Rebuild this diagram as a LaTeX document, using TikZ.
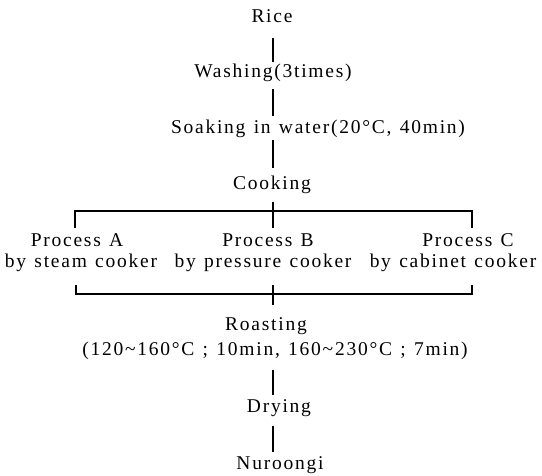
\documentclass[tikz,border=0pt]{standalone}
\usepackage{fontspec}
\setmainfont[LetterSpace=9,WordSpace=1.25]{Liberation Serif}
\begin{document}
\begin{tikzpicture}[x=1pt,y=-1pt,
  txt/.style={font=\fontsize{19.5}{22}\selectfont, inner sep=0pt, anchor=base, text height=13pt, text depth=4pt},
  ln/.style={line width=1.1pt, black}]
\useasboundingbox (0,0) rectangle (542,476);
\coordinate (axis) at (273,0);
\node[txt] (rice) at (272,23) {Rice};
\node[txt] (wash) at (273,78) {Washing(3times)};
\node[txt] (soak) at (318,134) {Soaking in water(20°C, 40min)};
\node[txt] (cook) at (272,190) {Cooking};
\node[txt] (pa1) at (77,247) {Process A};
\node[txt] (pa2) at (81,268) {by steam cooker};
\node[txt] (pb1) at (268,247) {Process B};
\node[txt] (pb2) at (263,268) {by pressure cooker};
\node[txt] (pc1) at (468,247) {Process C};
\node[txt] (pc2) at (453,268) {by cabinet cooker};
\node[txt] (roast) at (266,331) {Roasting};
\node[txt] (roast2) at (275,356) {(120\textasciitilde160°C ; 10min, 160\textasciitilde230°C ; 7min)};
\node[txt] (dry) at (279,413) {Drying};
\node[txt] (nur) at (280,470) {Nuroongi};
\coordinate (tl) at (75,211);
\coordinate (tr) at (472,211);
\coordinate (bl) at (76,294);
\coordinate (br) at (472,294);
\draw[ln, shorten <=11pt, shorten >=3pt] (rice.south -| axis) -- (wash.north -| axis);
\draw[ln, shorten <=7pt, shorten >=5pt] (wash.south -| axis) -- (soak.north -| axis);
\draw[ln, shorten <=2pt, shorten >=9pt] (soak.south -| axis) -- (cook.north -| axis);
\draw[ln, shorten <=8pt, shorten >=6pt] (cook.south -| axis) -- (pb1.north -| axis);
\draw[ln, shorten <=6pt, shorten >=6pt] (pa1.north -| tl) -- (tl) -- (tr) -- (pc1.north -| tr);
\draw[ln, shorten <=13pt, shorten >=13pt] (pa2.south -| bl) -- (bl) -- (br) -- (pc2.south -| br);
\draw[ln, shorten <=13pt, shorten >=13pt] (pb2.south -| axis) -- (roast.north -| axis);
\draw[ln, shorten <=10pt, shorten >=5pt] (roast2.south -| axis) -- (dry.north -| axis);
\draw[ln, shorten <=9pt, shorten >=5pt] (dry.south -| axis) -- (nur.north -| axis);
\end{tikzpicture}
\end{document}
